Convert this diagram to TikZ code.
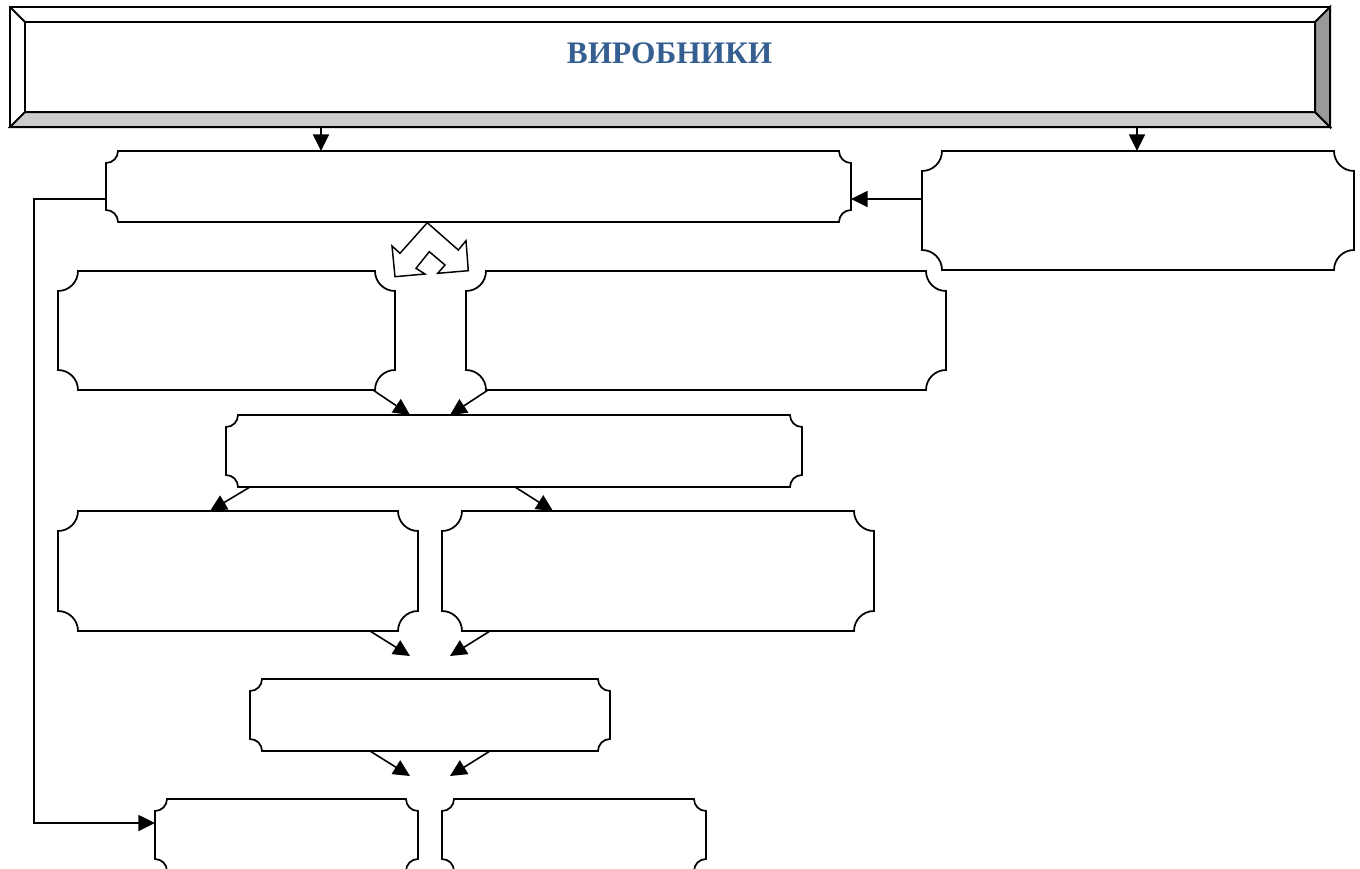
\documentclass[tikz,border=0pt]{standalone}
\usepackage{fontspec}
\setmainfont{Liberation Serif}
\usetikzlibrary{arrows.meta,calc}
\definecolor{hdrblue}{RGB}{54,95,145}
\definecolor{bevlight}{RGB}{204,204,204}
\definecolor{bevdark}{RGB}{153,153,153}
\tikzset{
  boxframe/.style={inner sep=0pt, outer sep=0pt, draw=none},
  boxline/.style={line width=1.3pt, fill=white, line join=miter},
  hdrline/.style={line width=1.5pt, line join=miter},
  conn/.style={line width=1.2pt, -{Triangle[length=12.5pt,width=12pt]}},
  splitarrow/.style={line width=1.1pt, fill=white, line join=miter}
}
% concave-cornered box: name, x1, y1, x2, y2, r (pixel units)
\newcommand\ccbox[6]{%
  \node[boxframe, minimum width={(#4-#2)*0.75pt}, minimum height={(#5-#3)*0.75pt}] (#1) at ({(#2+#4)/2},{(#3+#5)/2}) {};
  \draw[boxline] ({#2+#6},#3) -- ({#4-#6},#3)
    .. controls ({#4-#6},{#3+0.5523*#6}) and ({#4-0.5523*#6},{#3+#6}) .. (#4,{#3+#6})
    -- (#4,{#5-#6})
    .. controls ({#4-0.5523*#6},{#5-#6}) and ({#4-#6},{#5-0.5523*#6}) .. ({#4-#6},#5)
    -- ({#2+#6},#5)
    .. controls ({#2+#6},{#5-0.5523*#6}) and ({#2+0.5523*#6},{#5-#6}) .. (#2,{#5-#6})
    -- (#2,{#3+#6})
    .. controls ({#2+0.5523*#6},{#3+#6}) and ({#2+#6},{#3+0.5523*#6}) .. ({#2+#6},#3)
    -- cycle;}
\begin{document}
\begin{tikzpicture}[x=0.75pt,y=-0.75pt]
\path[use as bounding box] (0,0) rectangle (1360,868);
\clip (0,0) rectangle (1360,868);

% header
\node[boxframe, minimum width=990pt, minimum height=90pt] (hdr) at (670,67) {};
\fill[white] (10,7) rectangle (1330,127);
\draw[hdrline, fill=bevlight] (10,127) -- (25,112) -- (1315,112) -- (1330,127) -- cycle;
\draw[hdrline, fill=bevdark] (1330,7) -- (1315,22) -- (1315,112) -- (1330,127) -- cycle;
\draw[hdrline] (10,7) -- (25,22);
\draw[hdrline] (10,7) rectangle (1330,127);
\draw[hdrline] (25,22) rectangle (1315,112);
\node[anchor=base, inner sep=0pt, text=hdrblue, font=\fontsize{23.5pt}{28pt}\selectfont\bfseries] (title) at (669.5,63) {ВИРОБНИКИ};

% boxes
\ccbox{A}{106}{151}{851}{222}{12}
\ccbox{B}{922}{151}{1354}{270}{20}
\ccbox{C}{58}{271}{395}{390}{20}
\ccbox{D}{466}{271}{946}{390}{20}
\ccbox{E}{226}{415}{802}{487}{12}
\ccbox{F}{58}{511}{418}{631}{20}
\ccbox{G}{442}{511}{874}{631}{20}
\ccbox{H}{250}{679}{610}{751}{12}
\ccbox{I}{155}{799}{418}{871}{12}
\ccbox{J}{442}{799}{706}{871}{12}

% split block arrow below A
\draw[splitarrow] (427.3,222.7) -- (458.3,250) -- (466,240.7) -- (468.3,270.7)
  -- (437.7,273.3) -- (445,265) -- (429.3,251.7) -- (416,268.3) -- (425,274)
  -- (395,276.7) -- (392,246) -- (400,253.3) -- cycle;

% free end coordinates
\coordinate (lvl) at (0,199);
\coordinate (loopc) at (34,199);
\coordinate (fh1) at (410,656);
\coordinate (fh2) at (450,656);
\coordinate (hi1) at (410,776);
\coordinate (hi2) at (450,776);

% connectors
\draw[conn] ($(hdr.south west)+(311,0)$) -- ($(A.north west)+(215,0)$);
\draw[conn] ($(hdr.south west)+(1127,0)$) -- ($(B.north west)+(215,0)$);
\draw[conn] (B.west |- lvl) -- (A.east |- lvl);
\draw[conn] (A.west |- lvl) -- (loopc) |- ($(I.north west)+(0,24)$);
\draw[conn] ($(C.south east)+(-22,0)$) -- ($(E.north west)+(184,0)$);
\draw[conn] ($(D.south west)+(22,0)$) -- ($(E.north west)+(224,0)$);
\draw[conn] ($(E.south west)+(24,0)$) -- ($(F.north west)+(152,0)$);
\draw[conn] ($(E.south west)+(289,0)$) -- ($(G.north west)+(111,0)$);
\draw[conn] ($(F.south east)+(-48,0)$) -- (fh1);
\draw[conn] ($(G.south west)+(48,0)$) -- (fh2);
\draw[conn] ($(H.south west)+(120,0)$) -- (hi1);
\draw[conn] ($(H.south west)+(240,0)$) -- (hi2);
\end{tikzpicture}
\end{document}
